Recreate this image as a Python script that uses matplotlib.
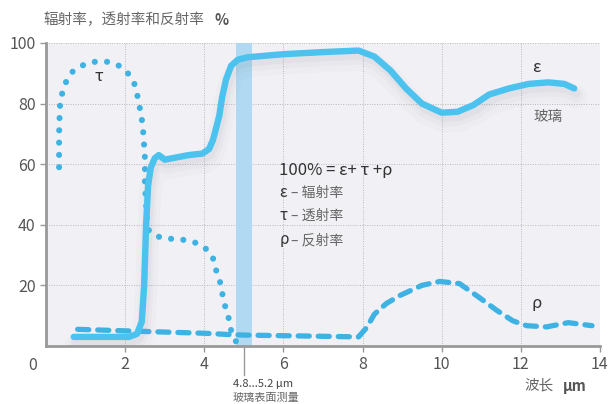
import numpy as np
import matplotlib.pyplot as plt
import matplotlib.transforms as mtransforms

plt.rcParams['font.family'] = ['Noto Sans CJK SC', 'DejaVu Sans']

# emissivity (epsilon) of glass, %
eps_x = [0.7, 1.5, 2.1, 2.3, 2.42, 2.48, 2.53, 2.58, 2.65, 2.75, 2.85, 3.0, 3.2, 3.6, 3.95, 4.12,
         4.22, 4.3, 4.38, 4.45, 4.55, 4.68, 4.85, 5.1, 6.0, 7.0, 7.9, 8.3, 8.7, 9.1, 9.5, 10.0,
         10.4, 10.8, 11.2, 11.7, 12.2, 12.7, 13.1, 13.35]
eps_y = [3, 3, 3, 4, 8, 20, 40, 53, 59, 62, 63, 61.5, 62, 63, 63.5, 65,
         68, 72, 76, 82, 88, 92.5, 94.5, 95.3, 96.3, 97.0, 97.5, 95.5, 91, 85, 80, 77,
         77.3, 79.5, 83, 85, 86.5, 87, 86.5, 85]

# transmission (tau), %
tau_x = [0.33, 0.33, 0.35, 0.4, 0.5, 0.68, 0.94, 1.24, 1.54, 1.83, 2.07, 2.23, 2.31, 2.37, 2.42,
         2.46, 2.5, 2.5, 2.55, 2.6, 2.86, 3.2, 3.5, 3.8, 4.05, 4.22, 4.3, 4.4, 4.46, 4.53,
         4.62, 4.68, 4.8]
tau_y = [59, 70, 79, 83, 87, 90.7, 92.7, 93.8, 93.8, 92.6, 90, 86.7, 82.6, 78.6, 75,
         70, 62, 54, 42, 38, 36, 35.3, 35, 34, 32, 29, 25, 21, 17, 13,
         9, 5, 1.5]

# reflection (rho), %
rho_x = [0.8, 2, 3, 4, 4.6, 5, 6, 7, 7.9, 8.1, 8.3, 8.6, 8.95, 9.5, 9.95, 10.45, 10.95,
         11.4, 11.8, 12.15, 12.65, 13.2, 13.8]
rho_y = [5.5, 5, 4.6, 4.2, 3.8, 3.6, 3.4, 3.2, 3, 6, 10.5, 14, 16.7, 20, 21.3, 20.6, 16,
         11.7, 8.3, 6.7, 6.3, 7.7, 6.7]

band = (4.8, 5.2)
x_ticks = [2, 4, 6, 8, 10, 12, 14]
y_ticks = [20, 40, 60, 80, 100]

fig = plt.figure(figsize=(6.08, 4.04), dpi=100)
ax = fig.add_axes([0.0757, 0.1436, 0.911, 0.75])
ax.set_facecolor('#f1f1f5')

gray = '#666666'
blue = '#4cc2ee'
blue2 = '#3eb2e2'

ax.axvspan(*band, color='#aad8f2', alpha=0.9, lw=0, zorder=1)

# soft shadow under the emissivity curve
for lw, a, dy in [(16, 0.03, -0.09), (10, 0.04, -0.07), (6, 0.05, -0.05)]:
    off = ax.transData + mtransforms.ScaledTranslation(0.02, dy, fig.dpi_scale_trans)
    ax.plot(eps_x, eps_y, color='#707080', lw=lw, alpha=a, solid_capstyle='round',
            transform=off, zorder=2)

ax.plot(eps_x, eps_y, color=blue, lw=4.6, solid_capstyle='round', solid_joinstyle='round', zorder=4)
ax.plot(tau_x, tau_y, color=blue2, lw=4.4, linestyle=(0, (0.01, 2.0)),
        dash_capstyle='round', zorder=3)
ax.plot(rho_x, rho_y, color=blue2, lw=3.8, linestyle=(0, (2.1, 1.7)),
        dash_capstyle='round', zorder=3)

ax.set_xlim(0, 14)
ax.set_ylim(0, 100)
ax.set_xticks(x_ticks)
ax.set_yticks(y_ticks)
ax.grid(True, color='#b8b8c0', linestyle=(0, (1, 1.5)), lw=0.7)
ax.set_axisbelow(True)
for s in ['top', 'right']:
    ax.spines[s].set_visible(False)
for s in ['left', 'bottom']:
    ax.spines[s].set_color('#999999')
    ax.spines[s].set_linewidth(2)
ax.tick_params(colors='#999999', labelcolor='#555555', labelsize=11.5, length=4, width=1)
ax.text(-0.33, -3.5, '0', ha='center', va='top', fontsize=11.5, color='#555555')

fig.text(0.072, 0.95, '辐射率，透射率和反射率', fontsize=10.5, color=gray, ha='left', va='center')
fig.text(0.352, 0.95, '%', fontsize=10.5, color='#555555', ha='left', va='center', fontweight='bold')
fig.text(0.862, 0.045, '波长', fontsize=10.5, color=gray, ha='left', va='center')
fig.text(0.925, 0.045, 'μm', fontsize=10.5, color='#555555', ha='left', va='center', fontweight='bold')

ax.text(1.34, 89, 'τ', fontsize=12, color='#333333', ha='center', va='center')
ax.text(12.4, 92, 'ε', fontsize=12, color='#333333', ha='center', va='center')
ax.text(12.7, 75.5, '玻璃', fontsize=10.5, color=gray, ha='center', va='center')
ax.text(12.4, 14, 'ρ', fontsize=12, color='#333333', ha='center', va='center')

ax.text(5.9, 58, '100% = ε+ τ +ρ', fontsize=12, color='#333333', ha='left', va='center')
ax.text(5.9, 50.5, 'ε', fontsize=11, color='#333333', ha='left', va='center')
ax.text(6.2, 50.5, '– 辐射率', fontsize=10, color=gray, ha='left', va='center')
ax.text(5.9, 43, 'τ', fontsize=11, color='#333333', ha='left', va='center')
ax.text(6.2, 43, '– 透射率', fontsize=10, color=gray, ha='left', va='center')
ax.text(5.9, 35, 'ρ', fontsize=11, color='#333333', ha='left', va='center')
ax.text(6.2, 35, '– 反射率', fontsize=10, color=gray, ha='left', va='center')

# band annotation below axis
ax.plot([5.0, 5.0], [0, -9.5], color='#999999', lw=1, clip_on=False)
ax.text(4.72, -11, '4.8...5.2 μm', fontsize=8, color='#444444', ha='left', va='top')
ax.text(4.72, -15.5, '玻璃表面测量', fontsize=8, color=gray, ha='left', va='top')

fig.savefig('out.png', dpi=100)
